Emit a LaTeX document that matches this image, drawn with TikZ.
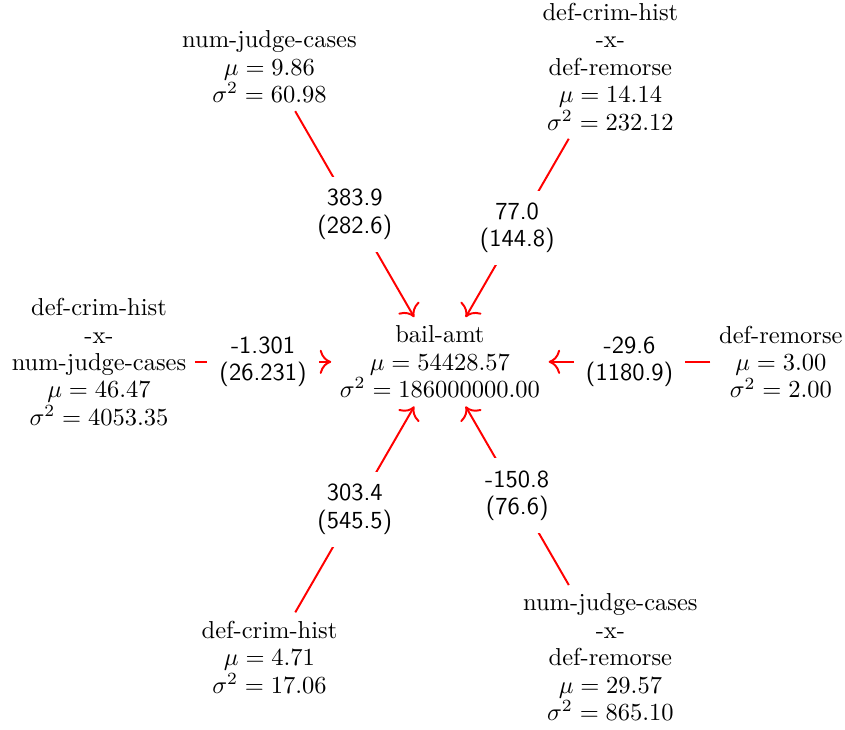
\documentclass[tikz,border=0pt]{standalone}
\usetikzlibrary{arrows.meta}
\begin{document}
\begin{tikzpicture}[
  var/.style={align=center, inner sep=3.33pt, font=\fontsize{10}{11.2}\selectfont},
  coef/.style={midway, fill=white, align=center, inner sep=5pt, text=black, font=\fontsize{10}{11.2}\selectfont\sffamily},
  link/.style={red, thick, -{To[scale=1.4]}}
]
\useasboundingbox (-6.31,-5.27) rectangle (5.81,5.19);
\def\R{4.89}
\node[var] (y) at (0,0) {bail-amt\\$\mu = 54428.57$\\$\sigma^2 = 186000000.00$};
\node[var] (a) at (120:\R) {num-judge-cases\\$\mu = 9.86$\\$\sigma^2 = 60.98$};
\node[var] (b) at (60:\R) {def-crim-hist\\-x-\\def-remorse\\$\mu = 14.14$\\$\sigma^2 = 232.12$};
\node[var] (c) at (180:\R) {def-crim-hist\\-x-\\num-judge-cases\\$\mu = 46.47$\\$\sigma^2 = 4053.35$};
\node[var] (d) at (0:\R) {def-remorse\\$\mu = 3.00$\\$\sigma^2 = 2.00$};
\node[var] (e) at (240:\R) {def-crim-hist\\$\mu = 4.71$\\$\sigma^2 = 17.06$};
\node[var] (f) at (300:\R) {num-judge-cases\\-x-\\def-remorse\\$\mu = 29.57$\\$\sigma^2 = 865.10$};
\draw[link] (a) -- node[coef] {383.9\\(282.6)} (y);
\draw[link] (b) -- node[coef] {77.0\\(144.8)} (y);
\draw[link] (c) -- node[coef] {-1.301\\(26.231)} (y);
\draw[link] (d) -- node[coef] {-29.6\\(1180.9)} (y);
\draw[link] (e) -- node[coef] {303.4\\(545.5)} (y);
\draw[link] (f) -- node[coef] {-150.8\\(76.6)} (y);
\end{tikzpicture}
\end{document}
